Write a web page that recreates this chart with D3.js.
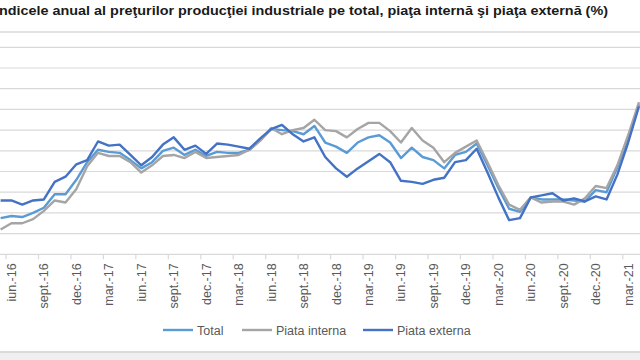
<!DOCTYPE html>
<html>
<head>
<meta charset="utf-8">
<script src="https://cdn.jsdelivr.net/npm/d3@7"></script>
<style>
  body { margin: 0; background: #fff; }
  svg { display: block; font-family: "Liberation Sans", Arial, sans-serif; }
</style>
</head>
<body>
<div id="main-diagram" style="width:640px;height:360px"></div>
<script>
// months shown on the category axis (first and last are partly cut off)
const months = [
  'mai.-16', 'iun.-16', 'iul.-16', 'aug.-16', 'sept.-16', 'oct.-16', 'nov.-16', 'dec.-16',
  'ian.-17', 'feb.-17', 'mar.-17', 'apr.-17', 'mai.-17', 'iun.-17', 'iul.-17', 'aug.-17',
  'sept.-17', 'oct.-17', 'nov.-17', 'dec.-17',
  'ian.-18', 'feb.-18', 'mar.-18', 'apr.-18', 'mai.-18', 'iun.-18', 'iul.-18', 'aug.-18',
  'sept.-18', 'oct.-18', 'nov.-18', 'dec.-18',
  'ian.-19', 'feb.-19', 'mar.-19', 'apr.-19', 'mai.-19', 'iun.-19', 'iul.-19', 'aug.-19',
  'sept.-19', 'oct.-19', 'nov.-19', 'dec.-19',
  'ian.-20', 'feb.-20', 'mar.-20', 'apr.-20', 'mai.-20', 'iun.-20', 'iul.-20', 'aug.-20',
  'sept.-20', 'oct.-20', 'nov.-20', 'dec.-20',
  'ian.-21', 'feb.-21', 'mar.-21', 'apr.-21'
]

// labels printed under the axis
const tickLabels = ['iun.-16', 'sept.-16', 'dec.-16', 'mar.-17', 'iun.-17', 'sept.-17', 'dec.-17',
  'mar.-18', 'iun.-18', 'sept.-18', 'dec.-18', 'mar.-19', 'iun.-19', 'sept.-19', 'dec.-19',
  'mar.-20', 'iun.-20', 'sept.-20', 'dec.-20', 'mar.-21']

const total = [
  95.5, 95.7, 95.6, 96.0, 96.5, 97.8, 97.8, 99.2,
  100.9, 102.1, 101.9, 101.8, 101.1, 100.3, 100.9, 102.0,
  102.3, 101.6, 102.1, 101.5,
  101.9, 101.8, 101.8, 102.1, 103.0, 104.1, 104.0, 103.9,
  103.6, 104.4, 102.8, 102.4,
  101.8, 102.8, 103.3, 103.5, 102.8, 101.3, 102.3, 101.4,
  101.1, 100.3, 101.6, 101.9,
  102.7, 100.6, 98.4, 96.4, 96.1, 97.5, 97.3, 97.3,
  97.3, 97.2, 97.1, 98.2,
  98.0, 100.4, 103.2, 106.5
]

const piataInterna = [
  94.4, 95.0, 95.0, 95.4, 96.2, 97.2, 97.0, 98.3,
  100.5, 101.8, 101.5, 101.5, 100.9, 99.9, 100.6, 101.5,
  101.6, 101.3, 101.9, 101.3,
  101.4, 101.5, 101.6, 102.1, 103.0, 104.2, 103.6, 104.0,
  104.2, 105.0, 104.0, 103.9,
  103.3, 104.1, 104.7, 104.7, 103.9, 102.8, 104.2, 103.0,
  102.3, 100.9, 101.8, 102.4,
  103.0, 100.9, 98.7, 96.8, 96.3, 97.5, 97.0, 97.1,
  97.1, 96.8, 97.4, 98.6,
  98.4, 100.6, 103.5, 106.7
]

const piataExterna = [
  97.2, 97.2, 96.8, 97.2, 97.3, 99.0, 99.5, 100.7,
  101.1, 102.9, 102.5, 102.6, 101.6, 100.6, 101.4, 102.6,
  103.3, 102.1, 102.5, 101.7,
  102.7, 102.6, 102.4, 102.2, 103.2, 104.1, 104.5, 103.6,
  102.9, 103.3, 101.4, 100.3,
  99.5, 100.3, 101.0, 101.7, 100.9, 99.1, 99.0, 98.8,
  99.2, 99.4, 100.9, 101.1,
  102.2, 99.9, 97.5, 95.3, 95.5, 97.5, 97.7, 97.9,
  97.2, 97.4, 97.1, 97.6,
  97.3, 99.7, 102.8, 106.3
]

const yTicks = [94, 96, 98, 100, 102, 104, 106, 108, 110, 112]

const series = [
  { name: 'Total', values: total, color: '#5B9BD5' },
  { name: 'Piata interna', values: piataInterna, color: '#A5A5A5' },
  { name: 'Piata externa', values: piataExterna, color: '#4472C4' }
]

const width = 640
const height = 360

const svg = d3.select('#main-diagram')
  .append('svg')
  .attr('width', width)
  .attr('height', height)

// frame lines of the pasted chart
svg.append('rect').attr('x', 0).attr('y', 31).attr('width', width).attr('height', 2).attr('fill', '#e3e3e3')
svg.append('rect').attr('x', 0).attr('y', 351).attr('width', width).attr('height', 9).attr('fill', '#efefef')
svg.append('rect').attr('x', 0).attr('y', 351).attr('width', width).attr('height', 2).attr('fill', '#dadada')

// title, first letter cut by the left edge as in the pasted picture
svg.append('text')
  .attr('x', -5)
  .attr('y', 15)
  .attr('font-size', 13)
  .attr('font-weight', 'bold')
  .attr('fill', '#1a1a1a')
  .attr('textLength', 613)
  .attr('lengthAdjust', 'spacingAndGlyphs')
  .text('Indicele anual al preţurilor producţiei industriale pe total, piaţa internă şi piaţa externă (%)')

const x = d3.scaleBand()
  .domain(months)
  .range([-4.8, 644.4])
  .padding(0)

const y = d3.scaleLinear()
  .domain([92, 112])
  .range([254.3, 47.3])

// horizontal gridlines
svg.append('g')
  .selectAll('line')
  .data(yTicks)
  .enter()
  .append('line')
  .attr('x1', 0)
  .attr('x2', width)
  .attr('y1', d => y(d))
  .attr('y2', d => y(d))
  .attr('stroke', '#d9d9d9')
  .attr('stroke-width', 1.2)

// category axis
const xAxis = svg.append('g')
  .attr('transform', `translate(0, ${y(92)})`)

xAxis.append('line')
  .attr('x1', 0).attr('x2', width)
  .attr('stroke', '#d9d9d9')
  .attr('stroke-width', 1.2)

xAxis.selectAll('.tick-mark')
  .data(tickLabels)
  .enter()
  .append('line')
  .attr('class', 'tick-mark')
  .attr('x1', d => x(d))
  .attr('x2', d => x(d))
  .attr('y1', 0)
  .attr('y2', 5)
  .attr('stroke', '#d9d9d9')
  .attr('stroke-width', 1.2)

xAxis.selectAll('.tick-label')
  .data(tickLabels)
  .enter()
  .append('text')
  .attr('class', 'tick-label')
  .attr('transform', d => `translate(${x(d) + x.bandwidth() / 2 + 4.5}, 9) rotate(-90)`)
  .attr('text-anchor', 'end')
  .attr('font-size', 12.5)
  .attr('fill', '#595959')
  .text(d => d)

// lines
const line = d3.line()
  .x((d, i) => x(months[i]) + x.bandwidth() / 2)
  .y(d => y(d))

svg.append('g')
  .selectAll('path')
  .data(series)
  .enter()
  .append('path')
  .attr('d', d => line(d.values))
  .attr('fill', 'none')
  .attr('stroke', d => d.color)
  .attr('stroke-width', 2.4)
  .attr('stroke-linejoin', 'round')

// legend
const legendX = [163, 242, 363]
const legend = svg.append('g')
  .selectAll('g')
  .data(series)
  .enter()
  .append('g')
  .attr('transform', (d, i) => `translate(${legendX[i]}, 330)`)

legend.append('line')
  .attr('x1', 0).attr('x2', 30)
  .attr('stroke', d => d.color)
  .attr('stroke-width', 2.4)

legend.append('text')
  .attr('x', 34)
  .attr('y', 4.5)
  .attr('font-size', 12.5)
  .attr('fill', '#595959')
  .text(d => d.name)
</script>
</body>
</html>
